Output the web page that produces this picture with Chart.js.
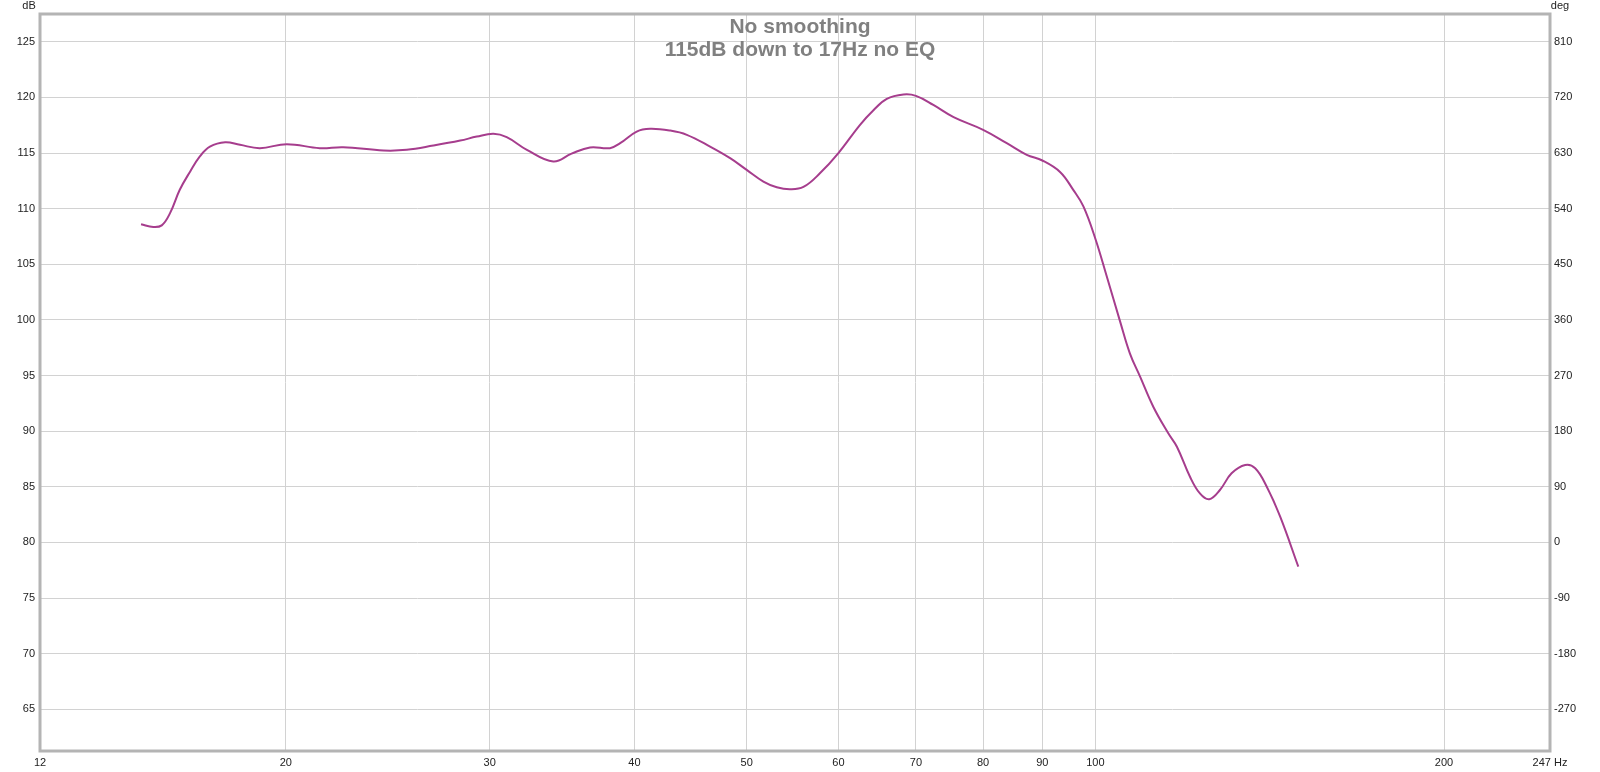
<!DOCTYPE html>
<html lang="en">
<head>
    <meta charset="UTF-8">
    <title>No smoothing - 115dB down to 17Hz no EQ</title>
    <script src="https://cdn.jsdelivr.net/npm/chart.js"></script>
    <style>
        body {
            margin: 0;
            background: #ffffff;
        }
        .wrap {
            width: 1600px;
            height: 772px;
        }
    </style>
</head>
<body>
    <div class="wrap">
        <canvas id="fr"></canvas>
    </div>
    <script>
        // frequency response (Hz / dB SPL)
        const freqHz = [15.0, 15.37, 15.63, 15.89, 16.2, 16.54, 16.86, 17.2, 17.73, 18.26,
            19.0, 20.04, 21.4, 22.42, 24.29, 25.44, 26.82, 28.29, 29.24, 30.22,
            31.03, 32.3, 34.04, 35.3, 36.62, 38.1, 38.88, 40.18, 41.26, 42.94,
            44.39, 46.49, 48.38, 50.0, 51.69, 53.08, 54.5, 55.97, 57.86, 60.0,
            62.64, 64.33, 66.06, 68.28, 70.0, 72.46, 75.44, 80.0, 83.85, 87.25,
            90.0, 93.22, 95.7, 97.65, 100.0, 102.3, 105.05, 107.1, 109.3, 112.2,
            115.6, 117.6, 120.7, 123.1, 125.4, 128.1, 131.1, 134.7, 137.4, 140.6,
            144.4, 149.7];
        const splDb = [108.6, 108.35, 108.5, 109.6, 111.7, 113.35, 114.7, 115.58, 115.98, 115.74,
            115.44, 115.8, 115.44, 115.53, 115.23, 115.29, 115.67, 116.12, 116.48, 116.73,
            116.43, 115.29, 114.24, 114.95, 115.5, 115.44, 115.89, 116.93, 117.18, 117.02,
            116.64, 115.58, 114.54, 113.49, 112.44, 111.93, 111.75, 111.95, 113.2, 115.0,
            117.54, 118.85, 119.87, 120.26, 120.14, 119.33, 118.23, 117.09, 115.89, 114.84,
            114.33, 113.3, 111.69, 110.2, 107.3, 103.9, 99.85, 97.0, 94.9, 92.2,
            89.81, 88.6, 85.9, 84.4, 83.88, 84.71, 86.21, 86.96, 86.66, 85.0,
            82.31, 77.82];

        const xTickValues = [12.27, 20, 30, 40, 50, 60, 70, 80, 90, 100, 200, 246.9];
        const xTickLabels = ['12', '20', '30', '40', '50', '60', '70', '80', '90', '100', '200', '247 Hz'];
        const dbTicks = [65, 70, 75, 80, 85, 90, 95, 100, 105, 110, 115, 120, 125];
        const degTicks = [-270, -180, -90, 0, 90, 180, 270, 360, 450, 540, 630, 720, 810];

        const dbMin = 61.25, dbMax = 127.5;
        const toDeg = db => (db - 80) * 18;

        const points = freqHz.map((f, i) => ({ x: f, y: splDb[i] }));
        const labelFont = { family: 'Liberation Sans, Arial, sans-serif', size: 11 };

        const frame = {
            id: 'frame',
            afterDraw(chart) {
                const { ctx, chartArea: a } = chart;
                ctx.save();
                ctx.strokeStyle = '#b4b4b4';
                ctx.lineWidth = 3;
                ctx.strokeRect(a.left, a.top, a.right - a.left, a.bottom - a.top);

                ctx.fillStyle = '#222';
                ctx.font = '11px Liberation Sans, Arial, sans-serif';
                ctx.textAlign = 'center';
                ctx.textBaseline = 'middle';
                ctx.fillText('dB', 29, 6);
                ctx.fillText('deg', 1560, 6);

                ctx.fillStyle = '#808080';
                ctx.font = 'bold 21px Liberation Sans, Arial, sans-serif';
                ctx.textBaseline = 'alphabetic';
                ctx.fillText('No smoothing', 800, 33);
                ctx.fillText('115dB down to 17Hz no EQ', 800, 56);
                ctx.restore();
            }
        };

        new Chart(document.getElementById('fr'), {
            type: 'line',
            data: {
                datasets: [{
                    label: 'SPL',
                    data: points,
                    borderColor: '#a63d8d',
                    borderWidth: 2,
                    pointRadius: 0,
                    tension: 0.4,
                    fill: false
                }]
            },
            options: {
                responsive: true,
                maintainAspectRatio: false,
                animation: false,
                layout: { padding: { top: 14 } },
                plugins: {
                    legend: { display: false },
                    tooltip: { enabled: false }
                },
                scales: {
                    x: {
                        type: 'logarithmic',
                        min: 12.27,
                        max: 246.9,
                        afterBuildTicks: s => { s.ticks = xTickValues.map(v => ({ value: v })); },
                        afterFit: s => { s.height = 21; },
                        grid: { color: '#d2d2d2', drawTicks: false },
                        border: { display: false },
                        ticks: {
                            autoSkip: false,
                            maxRotation: 0,
                            padding: 5,
                            color: '#222',
                            font: labelFont,
                            callback: (v, i) => xTickLabels[i]
                        }
                    },
                    y: {
                        position: 'left',
                        min: dbMin,
                        max: dbMax,
                        afterBuildTicks: s => { s.ticks = dbTicks.map(v => ({ value: v })); },
                        afterFit: s => { s.width = 40; },
                        grid: { color: '#d2d2d2', drawTicks: false },
                        border: { display: false },
                        ticks: { padding: 5, color: '#222', font: labelFont }
                    },
                    deg: {
                        position: 'right',
                        min: toDeg(dbMin),
                        max: toDeg(dbMax),
                        afterBuildTicks: s => { s.ticks = degTicks.map(v => ({ value: v })); },
                        afterFit: s => { s.width = 50; },
                        grid: { display: false, drawTicks: false },
                        border: { display: false },
                        ticks: { padding: 4, color: '#222', font: labelFont }
                    }
                }
            },
            plugins: [frame]
        });
    </script>
</body>
</html>
